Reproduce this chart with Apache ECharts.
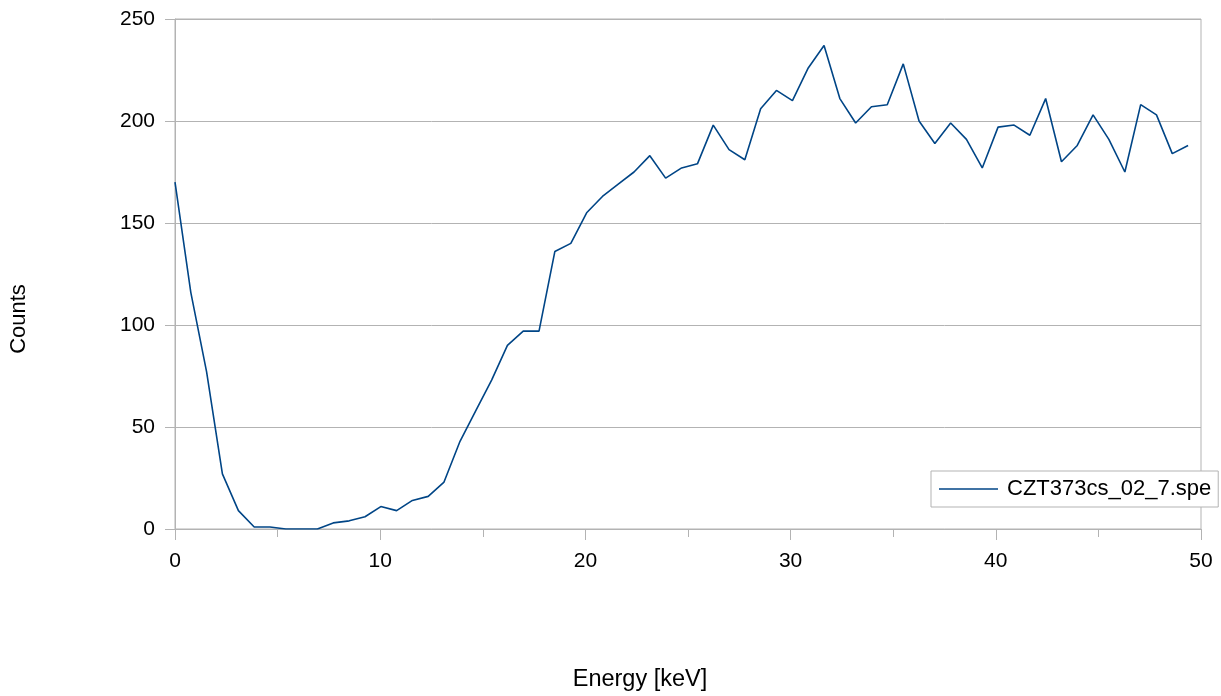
<!DOCTYPE html>
<html>
<head>
<meta charset="utf-8">
<script src="https://cdn.jsdelivr.net/npm/echarts@6/dist/echarts.min.js"></script>
<style>
  html, body { margin: 0; padding: 0; background: #fff; }
  #chart { width: 1221px; height: 696px; }
</style>
</head>
<body>
<div id="chart"></div>
<script>
// Spectrum: energy per channel (keV) and counts per channel
const energies = [
  0.00, 0.77, 1.54, 2.31, 3.09, 3.86, 4.63, 5.40, 6.17, 6.94,
  7.71, 8.49, 9.26, 10.03, 10.80, 11.57, 12.34, 13.11, 13.89, 14.66,
  15.43, 16.20, 16.97, 17.74, 18.51, 19.29, 20.06, 20.83, 21.60, 22.37,
  23.14, 23.91, 24.69, 25.46, 26.23, 27.00, 27.77, 28.54, 29.31, 30.09,
  30.86, 31.63, 32.40, 33.17, 33.94, 34.71, 35.49, 36.26, 37.03, 37.80,
  38.57, 39.34, 40.11, 40.89, 41.66, 42.43, 43.20, 43.97, 44.74, 45.51,
  46.29, 47.06, 47.83, 48.60, 49.37
];
const counts = [
  170, 116, 77, 27, 9, 1, 1, 0, 0, 0,
  3, 4, 6, 11, 9, 14, 16, 23, 43, 58,
  73, 90, 97, 97, 136, 140, 155, 163, 169, 175,
  183, 172, 177, 179, 198, 186, 181, 206, 215, 210,
  226, 237, 211, 199, 207, 208, 228, 200, 189, 199,
  191, 177, 197, 198, 193, 211, 180, 188, 203, 191,
  175, 208, 203, 184, 188
];
const seriesName = 'CZT373cs_02_7.spe';
const xTitle = 'Energy [keV]';
const yTitle = 'Counts';

const FONT = '"Liberation Sans", Arial, sans-serif';
const GRID = '#b3b3b3';
const LINE = '#004586';

const chart = echarts.init(document.getElementById('chart'), null, { renderer: 'canvas' });

chart.setOption({
  animation: false,
  backgroundColor: '#ffffff',
  textStyle: { fontFamily: FONT, color: '#000' },
  grid: {
    left: 175, right: 20, top: 19, bottom: 167,
    show: true, borderColor: GRID, borderWidth: 1, backgroundColor: 'transparent'
  },
  legend: {
    left: 931, top: 471,
    padding: [7, 7, 7, 8],
    icon: 'rect',
    itemWidth: 59, itemHeight: 1.6,
    itemGap: 8,
    borderColor: GRID, borderWidth: 1, backgroundColor: '#fff',
    textStyle: { fontFamily: FONT, fontSize: 22, color: '#000', padding: [0, 0, 0, 4] },
    data: [seriesName]
  },
  xAxis: {
    type: 'value', min: 0, max: 50, interval: 10,
    axisLine: { show: true, lineStyle: { color: GRID, width: 1 } },
    axisTick: { show: true, length: 11, lineStyle: { color: GRID } },
    minorTick: { show: true, splitNumber: 2, length: 8, lineStyle: { color: GRID } },
    splitLine: { show: false },
    axisLabel: { fontFamily: FONT, fontSize: 21, color: '#000', margin: 22 }
  },
  yAxis: {
    type: 'value', min: 0, max: 250, interval: 50,
    axisLine: { show: true, lineStyle: { color: GRID, width: 1 } },
    axisTick: { show: true, length: 10, lineStyle: { color: GRID } },
    splitLine: { show: true, lineStyle: { color: GRID, width: 1 } },
    axisLabel: { fontFamily: FONT, fontSize: 21, color: '#000', margin: 20 }
  },
  graphic: [
    {
      type: 'text', x: 640, y: 680,
      style: { text: xTitle, font: '23.5px ' + FONT, fill: '#000', textAlign: 'center', textVerticalAlign: 'middle' }
    },
    {
      type: 'text', rotation: Math.PI / 2, x: 19, y: 319,
      style: { text: yTitle, font: '22px ' + FONT, fill: '#000', textAlign: 'center', textVerticalAlign: 'middle' }
    }
  ],
  series: [{
    name: seriesName,
    type: 'line',
    data: energies.map((e, i) => [e, counts[i]]),
    symbol: 'none',
    lineStyle: { color: LINE, width: 1.6 },
    itemStyle: { color: LINE }
  }]
});
</script>
</body>
</html>
